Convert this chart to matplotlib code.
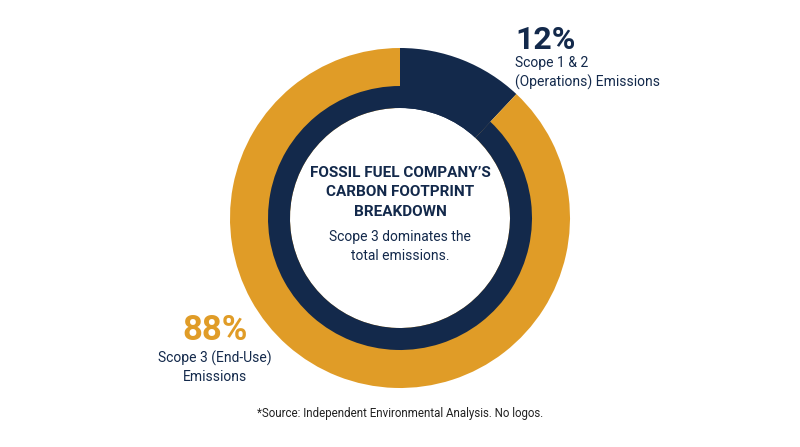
import matplotlib
matplotlib.use("Agg")
import matplotlib.pyplot as plt

labels = ["Scope 1 & 2 (Operations)", "Scope 3 (End-Use)"]
shares = [12, 88]
navy = "#13294b"
gold = "#e09c27"

W, H = 800, 447
fig = plt.figure(figsize=(8, 4.47), dpi=100)
ax = fig.add_axes([0, 0, 1, 1])
cx, cy = 400, H - 218
ax.pie(shares, colors=[navy, gold], radius=170, center=(cx, cy), startangle=90,
       counterclock=False, wedgeprops=dict(width=60, linewidth=0), frame=True)
ax.pie(shares, colors=[navy, navy], radius=132, center=(cx, cy), startangle=90,
       counterclock=False, wedgeprops=dict(width=22, linewidth=0), frame=True)
ax.set_xlim(0, W); ax.set_ylim(0, H); ax.set_aspect("equal"); ax.axis("off")

f = "Roboto"
def t(x, y, s, **kw):
    ax.text(x, H - y, s, family=f, **kw)
t(515, 40, f"{shares[0]}%", fontsize=23, weight="bold", color=navy, va="center")
t(515, 63, "Scope 1 & 2", fontsize=10, color=navy, va="center")
t(515, 82, "(Operations) Emissions", fontsize=10, color=navy, va="center")
t(215, 330, f"{shares[1]}%", fontsize=25, weight="bold", color=gold, va="center", ha="center")
t(215, 358, "Scope 3 (End-Use)", fontsize=10, color=navy, va="center", ha="center")
t(215, 377, "Emissions", fontsize=10, color=navy, va="center", ha="center")
for i, s in enumerate(["FOSSIL FUEL COMPANY\u2019S", "CARBON FOOTPRINT", "BREAKDOWN"]):
    t(400, 173 + 19.5 * i, s, fontsize=11, weight="bold", color=navy, va="center", ha="center")
t(400, 237, "Scope 3 dominates the", fontsize=10, color=navy, va="center", ha="center")
t(400, 256, "total emissions.", fontsize=10, color=navy, va="center", ha="center")
t(400, 413, "*Source: Independent Environmental Analysis. No logos.", fontsize=8.3, color="#222222", va="center", ha="center")
fig.savefig("out.png", dpi=100, facecolor="white")
